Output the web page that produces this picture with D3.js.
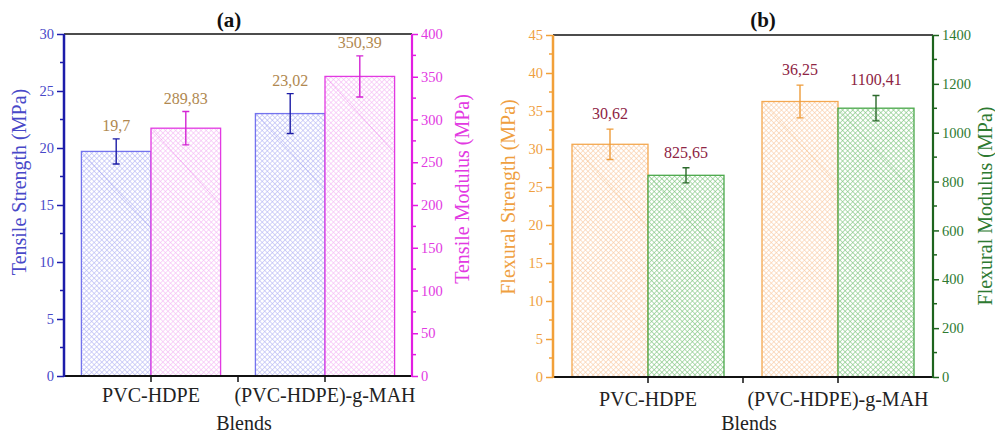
<!DOCTYPE html>
<html>
<head>
<meta charset="utf-8">
<script src="https://cdnjs.cloudflare.com/ajax/libs/d3/7.8.5/d3.min.js"></script>
<style>
  body { margin: 0; background: #fff; }
  svg { display: block; font-family: "Liberation Serif", "Times New Roman", serif; }
</style>
</head>
<body>
<script>
// data
var categories = ["PVC-HDPE", "(PVC-HDPE)-g-MAH"];

var tensileStrength = [19.7, 23.02];
var tensileStrengthErr = [1.1, 1.75];
var tensileModulus = [289.83, 350.39];
var tensileModulusErr = [19.5, 24];

var flexuralStrength = [30.62, 36.25];
var flexuralStrengthErr = [2.0, 2.15];
var flexuralModulus = [825.65, 1100.41];
var flexuralModulusErr = [31, 52];

var tensileStrengthTicks = [0, 5, 10, 15, 20, 25, 30];
var tensileModulusTicks = [0, 50, 100, 150, 200, 250, 300, 350, 400];
var flexuralStrengthTicks = [0, 5, 10, 15, 20, 25, 30, 35, 40, 45];
var flexuralModulusTicks = [0, 200, 400, 600, 800, 1000, 1200, 1400];

var W = 995, H = 435;
var svg = d3.select("body").append("svg").attr("width", W).attr("height", H);
var defs = svg.append("defs");

function hatch(id, color) {
    var p = defs.append("pattern")
        .attr("id", id)
        .attr("patternUnits", "userSpaceOnUse")
        .attr("width", 3.6).attr("height", 3.6)
        .attr("patternTransform", "rotate(45)");
    p.append("rect").attr("width", 3.6).attr("height", 3.6).attr("fill", "#fff");
    p.append("path")
        .attr("d", "M0,0.3 H3.6 M0.3,0 V3.6")
        .attr("stroke", color).attr("stroke-width", 0.7).attr("fill", "none");
}

function fmt(v) { return String(v).replace(".", ","); }

function drawPanel(cfg) {
    var g = svg.append("g");
    var x0 = d3.scaleBand().domain(categories).range([cfg.left, cfg.right]);
    var x1 = d3.scaleBand().domain([0, 1]).range([0, x0.bandwidth() * 0.8]);
    var groupOff = x0.bandwidth() * 0.1;

    var yL = d3.scaleLinear().domain(cfg.leftDomain).range([cfg.bottom, cfg.top]);
    var yR = d3.scaleLinear().domain(cfg.rightDomain).range([cfg.bottom, cfg.top]);

    var series = [
        {vals: cfg.leftVals, errs: cfg.leftErrs, y: yL, s: cfg.s[0]},
        {vals: cfg.rightVals, errs: cfg.rightErrs, y: yR, s: cfg.s[1]}
    ];

    series.forEach(function(se, si) {
        hatch(cfg.id + si, se.s.hatch);
        var bars = g.selectAll(".bar" + si)
            .data(categories.map(function(c, i) { return {c: c, v: se.vals[i], e: se.errs[i]}; }))
            .enter().append("g");

        bars.append("rect")
            .attr("x", function(d) { return x0(d.c) + groupOff + x1(si); })
            .attr("y", function(d) { return se.y(d.v); })
            .attr("width", x1.bandwidth())
            .attr("height", function(d) { return cfg.bottom - se.y(d.v); })
            .attr("fill", "url(#" + cfg.id + si + ")")
            .attr("stroke", se.s.stroke).attr("stroke-width", 1.3);

        // faint streak inside each bar
        bars.append("line")
            .attr("x1", function(d) { return x0(d.c) + groupOff + x1(si); })
            .attr("y1", function(d) { return se.y(d.v); })
            .attr("x2", function(d) { return x0(d.c) + groupOff + x1(si) + x1.bandwidth(); })
            .attr("y2", function(d) { return se.y(d.v) + x1.bandwidth() * 1.1; })
            .attr("stroke", se.s.stroke).attr("stroke-width", 0.6).attr("opacity", 0.45);

        var cx = function(d) { return x0(d.c) + groupOff + x1(si) + x1.bandwidth() / 2; };
        bars.append("path")
            .attr("d", function(d) {
                var x = cx(d), t = se.y(d.v + d.e), b = se.y(d.v - d.e);
                return "M" + (x - 3.5) + "," + t + "H" + (x + 3.5) + "M" + x + "," + t + "V" + b +
                       "M" + (x - 3.5) + "," + b + "H" + (x + 3.5);
            })
            .attr("stroke", se.s.err).attr("stroke-width", 1.4).attr("fill", "none");

        bars.append("text")
            .attr("x", cx)
            .attr("y", function(d) { return se.y(d.v + d.e) - cfg.labelGap; })
            .attr("text-anchor", "middle")
            .attr("font-size", 16)
            .attr("fill", cfg.labelColor)
            .text(function(d) { return fmt(d.v); });
    });

    // top frame line
    g.append("line")
        .attr("x1", cfg.left).attr("x2", cfg.right)
        .attr("y1", cfg.top).attr("y2", cfg.top)
        .attr("stroke", "#111").attr("stroke-width", 1.5);

    // bottom axis
    var xb = g.append("g").attr("transform", "translate(0," + cfg.bottom + ")");
    xb.append("line").attr("x1", cfg.left).attr("x2", cfg.right)
        .attr("stroke", "#111").attr("stroke-width", 2);
    var tickXs = categories.map(function(c) { return x0(c) + x0.bandwidth() / 2; })
        .concat([x0(categories[1])]);
    xb.selectAll(".xt").data(tickXs).enter().append("line")
        .attr("x1", function(d) { return d; }).attr("x2", function(d) { return d; })
        .attr("y1", 0).attr("y2", 6)
        .attr("stroke", "#111").attr("stroke-width", 1.5);
    g.selectAll(".xl").data(categories).enter().append("text")
        .attr("x", function(c) { return x0(c) + x0.bandwidth() / 2; })
        .attr("y", cfg.catY)
        .attr("text-anchor", "middle").attr("font-size", 20).attr("fill", "#222")
        .text(function(c) { return c; });
    g.append("text")
        .attr("x", (cfg.left + cfg.right) / 2 + 6).attr("y", cfg.blendsY)
        .attr("text-anchor", "middle").attr("font-size", 20).attr("fill", "#222")
        .text("Blends");

    // left axis
    var minorL = cfg.leftTicks.slice(1).map(function(t, i) { return (t + cfg.leftTicks[i]) / 2; });
    var axL = d3.axisLeft(yL).tickValues(cfg.leftTicks).tickFormat(d3.format("d"))
        .tickSize(7).tickPadding(3);
    var gL = g.append("g").attr("transform", "translate(" + cfg.left + ",0)").call(axL);
    gL.selectAll(".mt").data(minorL).enter().append("line")
        .attr("x1", -4).attr("x2", 0)
        .attr("y1", yL).attr("y2", yL);
    gL.select(".domain").remove();
    gL.append("line").attr("y1", cfg.top).attr("y2", cfg.bottom + 1);
    gL.selectAll("line").attr("stroke", cfg.s[0].axis).attr("stroke-width", 1.5);
    gL.select("line:last-child").attr("stroke-width", 2.5);
    gL.selectAll("text").attr("fill", cfg.s[0].text).attr("font-size", 14.5)
        .attr("font-family", "Liberation Serif, serif");

    // right axis
    var minorR = cfg.rightTicks.slice(1).map(function(t, i) { return (t + cfg.rightTicks[i]) / 2; });
    var axR = d3.axisRight(yR).tickValues(cfg.rightTicks).tickFormat(d3.format("d"))
        .tickSize(6).tickPadding(3);
    var gR = g.append("g").attr("transform", "translate(" + cfg.right + ",0)").call(axR);
    gR.selectAll(".mt").data(minorR).enter().append("line")
        .attr("x1", 0).attr("x2", 4)
        .attr("y1", yR).attr("y2", yR);
    gR.select(".domain").remove();
    gR.append("line").attr("y1", cfg.top).attr("y2", cfg.bottom + 1);
    gR.selectAll("line").attr("stroke", cfg.s[1].axis).attr("stroke-width", 1.5);
    gR.select("line:last-child").attr("stroke-width", 2.2);
    gR.selectAll("text").attr("fill", cfg.s[1].text).attr("font-size", 14.5)
        .attr("font-family", "Liberation Serif, serif");

    // axis titles
    g.append("text")
        .attr("transform", "translate(" + (cfg.left - 45) + "," + cfg.leftTitleY + ") rotate(-90)")
        .attr("dy", "0.35em").attr("text-anchor", "middle").attr("font-size", 20)
        .attr("fill", cfg.s[0].text).text(cfg.leftTitle);
    g.append("text")
        .attr("transform", "translate(" + (cfg.right + cfg.rightTitleDx) + "," + cfg.rightTitleY + ") rotate(-90)")
        .attr("dy", "0.35em").attr("text-anchor", "middle").attr("font-size", 20)
        .attr("fill", cfg.s[1].text).text(cfg.rightTitle);

    // panel title
    g.append("text")
        .attr("x", cfg.titleX).attr("y", 27)
        .attr("text-anchor", "middle").attr("font-size", 21).attr("font-weight", "bold")
        .attr("fill", "#111").text(cfg.title);
}

drawPanel({
    id: "pa", title: "(a)", titleX: 229,
    left: 64, right: 412, top: 34, bottom: 376,
    leftDomain: [0, 30], rightDomain: [0, 400],
    leftTicks: tensileStrengthTicks, rightTicks: tensileModulusTicks,
    leftVals: tensileStrength, leftErrs: tensileStrengthErr,
    rightVals: tensileModulus, rightErrs: tensileModulusErr,
    leftTitle: "Tensile Strength (MPa)", rightTitle: "Tensile Modulus (MPa)",
    leftTitleY: 182, rightTitleY: 189, rightTitleDx: 50,
    labelGap: 8, labelColor: "#b08850",
    catY: 402, blendsY: 430,
    s: [
        {stroke: "#7373ee", hatch: "#b4b6f4", err: "#1c1ca6", axis: "#1c1caa", text: "#4848c8"},
        {stroke: "#e23ae2", hatch: "#f4b8f4", err: "#d424d4", axis: "#e21ee2", text: "#e23ae2"}
    ]
});

drawPanel({
    id: "pb", title: "(b)", titleX: 763,
    left: 553, right: 933, top: 35, bottom: 377,
    leftDomain: [0, 45], rightDomain: [0, 1400],
    leftTicks: flexuralStrengthTicks, rightTicks: flexuralModulusTicks,
    leftVals: flexuralStrength, leftErrs: flexuralStrengthErr,
    rightVals: flexuralModulus, rightErrs: flexuralModulusErr,
    leftTitle: "Flexural Strength (MPa)", rightTitle: "Flexural Modulus (MPa)",
    leftTitleY: 197, rightTitleY: 206, rightTitleDx: 52,
    labelGap: 10, labelColor: "#8e2444",
    catY: 406, blendsY: 430,
    s: [
        {stroke: "#f4a850", hatch: "#f9c9a2", err: "#ee9c3a", axis: "#f2a038", text: "#ef9f3f"},
        {stroke: "#4aa84a", hatch: "#7cc47c", err: "#2c6a2c", axis: "#1e641e", text: "#2e7a32"}
    ]
});
</script>
</body>
</html>
